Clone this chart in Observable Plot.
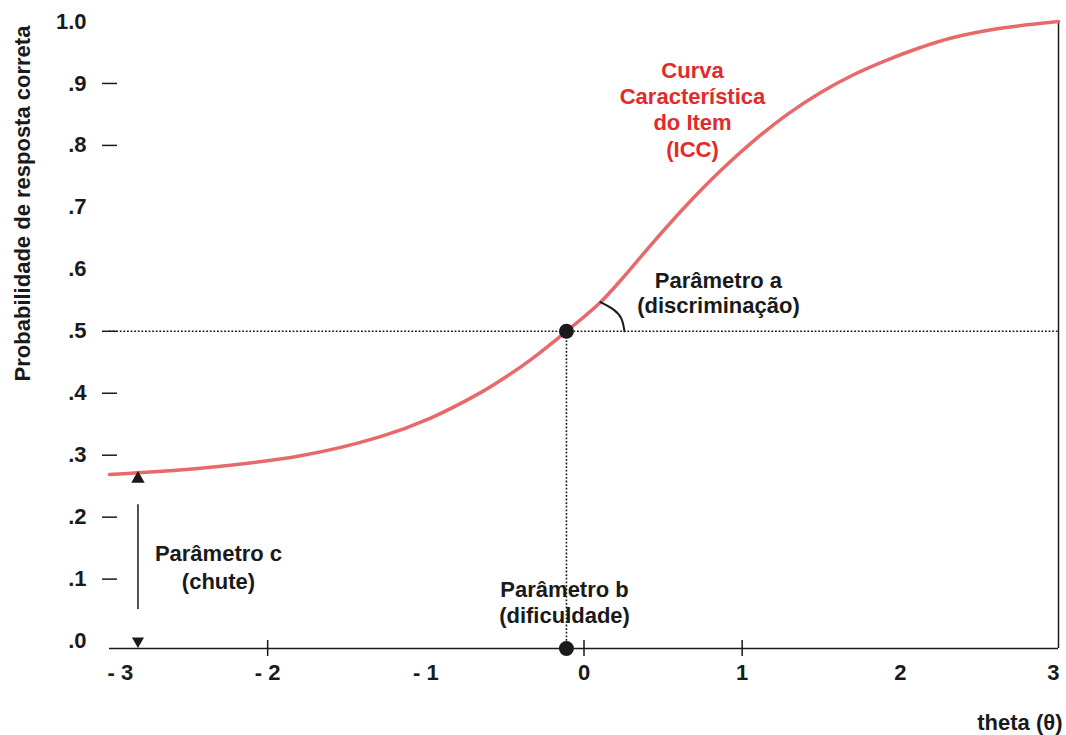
<!DOCTYPE html>
<html>
<head>
<meta charset="utf-8">
<script src="https://cdn.jsdelivr.net/npm/d3@7"></script>
<script src="https://cdn.jsdelivr.net/npm/@observablehq/plot@0.6"></script>
<style>
  html, body { margin: 0; padding: 0; background: #ffffff; }
</style>
</head>
<body>
<div id="chart"></div>
<script>
// ICC curve
const theta = [-3.0, -2.425, -1.792, -1.287, -0.970, -0.654, -0.484, -0.338, -0.111, 0.104, 0.231, 0.439, 0.654, 0.863, 1.071, 1.286, 1.494, 1.704, 1.919, 2.127, 2.317, 2.633, 3.0];
const prob  = [0.269, 0.279, 0.299, 0.330, 0.360, 0.401, 0.428, 0.454, 0.500, 0.547, 0.582, 0.644, 0.705, 0.759, 0.807, 0.850, 0.885, 0.914, 0.938, 0.958, 0.973, 0.989, 1.0];

// parameters
const bTheta = -0.111;  // difficulty
const bProb = 0.5;
const cTheta = -2.82;   // guessing marker
const cTop = 0.262;
const cBottom = 0.0;
const cLineFrom = 0.051;
const cLineTo = 0.220;

// discrimination angle arc
const arcTheta = [0.104, 0.187, 0.237, 0.256];
const arcProb  = [0.547, 0.535, 0.520, 0.500];

// axes
const xTicks = [-3, -2, -1, 0, 1, 2, 3];
const xLabels = ["- 3", "- 2", "- 1", "0", "1", "2", "3"];
const xTickMarks = [-2, 0, 1];
const yTicks = [0, 0.1, 0.2, 0.3, 0.4, 0.5, 0.6, 0.7, 0.8, 0.9, 1];
const yLabels = [".0", ".1", ".2", ".3", ".4", ".5", ".6", ".7", ".8", ".9", "1.0"];
const yTickMarks = [0.1, 0.2, 0.3, 0.4, 0.5, 0.8, 0.9];

// annotations
const noteText  = ["Curva\nCaracterística\ndo Item\n(ICC)", "Parâmetro a\n(discriminação)", "Parâmetro c\n(chute)", "Parâmetro b\n(dificuldade)"];
const noteTheta = [0.686, 0.85, -2.311, -0.123];
const noteProb  = [0.859, 0.563, 0.121, 0.064];
const noteColor = ["#e32a2a", "#1a1a1a", "#1a1a1a", "#1a1a1a"];
const noteLineHeight = [1.2, 1.14, 1.25, 1.18];

const xTitle = "theta (θ)";
const yTitle = "Probabilidade de resposta correta";

const xDomain = [-3, 3];
const yDomain = [-0.012, 1];

const curve = theta.map((t, i) => ({theta: t, p: prob[i]}));
const arc = arcTheta.map((t, i) => ({theta: t, p: arcProb[i]}));
const notes = noteText.map((t, i) => ({text: t, theta: noteTheta[i], p: noteProb[i], color: noteColor[i], lh: noteLineHeight[i]}));

const ink = "#1a1a1a";
const yMin = yDomain[0];
const yMax = yDomain[1];

const chart = Plot.plot({
  width: 1066,
  height: 735,
  marginLeft: 109,
  marginRight: 8,
  marginTop: 21,
  marginBottom: 87,
  x: {domain: xDomain, label: null},
  y: {domain: yDomain, label: null},
  style: {
    fontFamily: "'Liberation Sans', Arial, sans-serif",
    fontSize: "22px",
    fontWeight: "bold",
    background: "#ffffff",
    color: ink
  },
  marks: [
    // y axis tick marks and labels
    Plot.axisY(yTickMarks, {tickSize: 15, dx: 8, tickFormat: () => "", stroke: ink, strokeWidth: 1.5, label: null}),
    Plot.axisY(yTicks, {tickSize: 0, tickPadding: 23, tickFormat: d => yLabels[yTicks.indexOf(d)], fill: ink, label: null}),
    // x axis tick marks and labels
    Plot.axisX(xTickMarks, {tickSize: 16, dy: -8, tickFormat: () => "", stroke: ink, strokeWidth: 1.5, label: null}),
    Plot.axisX(xTicks.slice(1, -1), {tickSize: 0, tickPadding: 16, tickFormat: d => xLabels[xTicks.indexOf(d)], fill: ink, label: null}),
    Plot.text([xLabels[0]], {x: [xTicks[0]], frameAnchor: "bottom", lineAnchor: "top", textAnchor: "start", dy: 16, dx: -2, fill: ink}),
    Plot.text([xLabels[xLabels.length - 1]], {x: [xTicks[xTicks.length - 1]], frameAnchor: "bottom", lineAnchor: "top", textAnchor: "end", dy: 16, dx: 1, fill: ink}),
    // frame: bottom axis line and right border
    Plot.ruleY([yMin], {stroke: ink, strokeWidth: 1.5}),
    Plot.ruleX([xDomain[1]], {y1: yMin, y2: yMax, stroke: ink, strokeWidth: 1.5}),
    // dotted reference lines
    Plot.ruleY([bProb], {stroke: ink, strokeWidth: 1.6, strokeDasharray: "1.8,1.8"}),
    Plot.ruleX([bTheta], {y1: yMin, y2: bProb, stroke: ink, strokeWidth: 1.6, strokeDasharray: "1.8,1.8"}),
    // ICC curve
    Plot.line(curve, {x: "theta", y: "p", stroke: "#e8696a", strokeWidth: 3.5, curve: "catmull-rom"}),
    // discrimination arc
    Plot.line(arc, {x: "theta", y: "p", stroke: ink, strokeWidth: 2, curve: "natural"}),
    // b markers
    Plot.dot([{theta: bTheta, p: bProb}, {theta: bTheta, p: yMin}], {x: "theta", y: "p", r: 7.5, fill: ink, stroke: null}),
    // c markers
    Plot.ruleX([cTheta], {y1: cLineFrom, y2: cLineTo, stroke: ink, strokeWidth: 1.5}),
    Plot.dot([{theta: cTheta, p: cTop}], {x: "theta", y: "p", symbol: "triangle", r: 5, fill: ink, stroke: null}),
    Plot.dot([{theta: cTheta, p: cBottom}], {x: "theta", y: "p", symbol: "triangle", rotate: 180, r: 4.5, fill: ink, stroke: null}),
    // annotations
    ...notes.map(n => Plot.text([n], {x: "theta", y: "p", text: "text", fill: n.color, lineHeight: n.lh, lineAnchor: "middle", textAnchor: "middle"})),
    // axis titles
    Plot.text([xTitle], {frameAnchor: "bottom-right", dy: 74, dx: 4, textAnchor: "end", lineAnchor: "middle", fill: ink}),
    Plot.text([yTitle], {frameAnchor: "top-left", rotate: -90, dx: -87, dy: 182, textAnchor: "middle", lineAnchor: "middle", fill: ink})
  ]
});

document.getElementById("chart").appendChild(chart);
</script>
</body>
</html>
